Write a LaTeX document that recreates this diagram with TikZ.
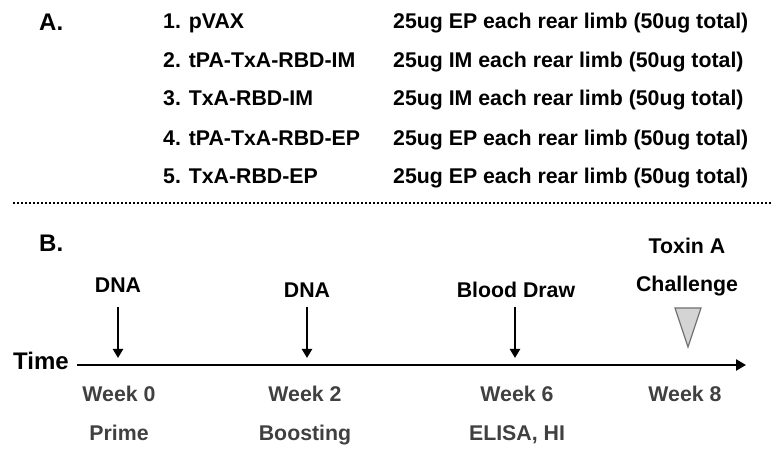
\documentclass[tikz,border=0pt]{standalone}
\usepackage{fontspec}
\setmainfont{Liberation Sans}
\usetikzlibrary{arrows.meta}
\definecolor{wk}{HTML}{404040}
\definecolor{trifill}{HTML}{D4D4D4}
\definecolor{triline}{HTML}{707070}
\tikzset{
  lbl/.style={anchor=base,inner sep=0pt,font=\fontsize{21.3}{24}\selectfont\bfseries},
  lbll/.style={lbl,anchor=base west},
  partlbl/.style={lbll,font=\fontsize{24}{28}\selectfont\bfseries},
  wklbl/.style={lbl,text=wk},
  downarr/.style={line width=2.2pt,-{Triangle[length=9pt,width=10pt]}},
  axis/.style={line width=2.8pt,-{Triangle[length=10pt,width=11pt]}},
}
\begin{document}
\begin{tikzpicture}[x=1pt,y=-1pt]
\useasboundingbox (0,0) rectangle (777,454);
% Part A
\node[partlbl] (A) at (39,31) {A.};
\node[lbll] (g1) at (163,29) {1. pVAX};
\node[lbll] (g2) at (163,68) {2. tPA-TxA-RBD-IM};
\node[lbll] (g3) at (163,106) {3. TxA-RBD-IM};
\node[lbll] (g4) at (163,146) {4. tPA-TxA-RBD-EP};
\node[lbll] (g5) at (163,184) {5. TxA-RBD-EP};
\node[lbll] (d1) at (393,29) {25ug EP each rear limb (50ug total)};
\node[lbll] (d2) at (393,68) {25ug IM each rear limb (50ug total)};
\node[lbll] (d3) at (393,106) {25ug IM each rear limb (50ug total)};
\node[lbll] (d4) at (393,146) {25ug EP each rear limb (50ug total)};
\node[lbll] (d5) at (393,184) {25ug EP each rear limb (50ug total)};
% separator
\coordinate (sepL) at (13,203);
\coordinate (sepR) at (771,203);
\draw[line width=2pt,dash pattern=on 2pt off 2pt] (sepL) -- (sepR);
% Part B
\node[partlbl] (B) at (39,252) {B.};
\node[partlbl] (time) at (13,370) {Time};
\coordinate (axS) at (77,365);
\coordinate (axE) at (746,365);
\draw[axis] (axS) -- (axE);
% events
\node[lbl] (dna1) at (118,293) {DNA};
\node[lbl] (dna2) at (307,298) {DNA};
\node[lbl] (blood) at (516,298) {Blood Draw};
\node[lbl] (tox) at (687,254) {Toxin A};
\node[lbl] (chal) at (687,292) {Challenge};
\coordinate (a1s) at (118,307); \coordinate (a1e) at (118,358);
\coordinate (a2s) at (307,307); \coordinate (a2e) at (307,358);
\coordinate (a3s) at (515,307); \coordinate (a3e) at (515,358);
\draw[downarr] (a1s) -- (a1e);
\draw[downarr] (a2s) -- (a2e);
\draw[downarr] (a3s) -- (a3e);
\draw[fill=trifill,draw=triline,line width=1.2pt,line join=miter]
  (675,308) coordinate (t1) -- (701,308) coordinate (t2) -- (688,347) coordinate (t3) -- cycle;
% weeks
\node[wklbl] (w0) at (119,402) {Week 0};
\node[wklbl] (w2) at (305,402) {Week 2};
\node[wklbl] (w6) at (517,402) {Week 6};
\node[wklbl] (w8) at (685,402) {Week 8};
\node[wklbl] (p0) at (119,441) {Prime};
\node[wklbl] (p2) at (305,441) {Boosting};
\node[wklbl] (p6) at (517,441) {ELISA, HI};
\end{tikzpicture}
\end{document}
